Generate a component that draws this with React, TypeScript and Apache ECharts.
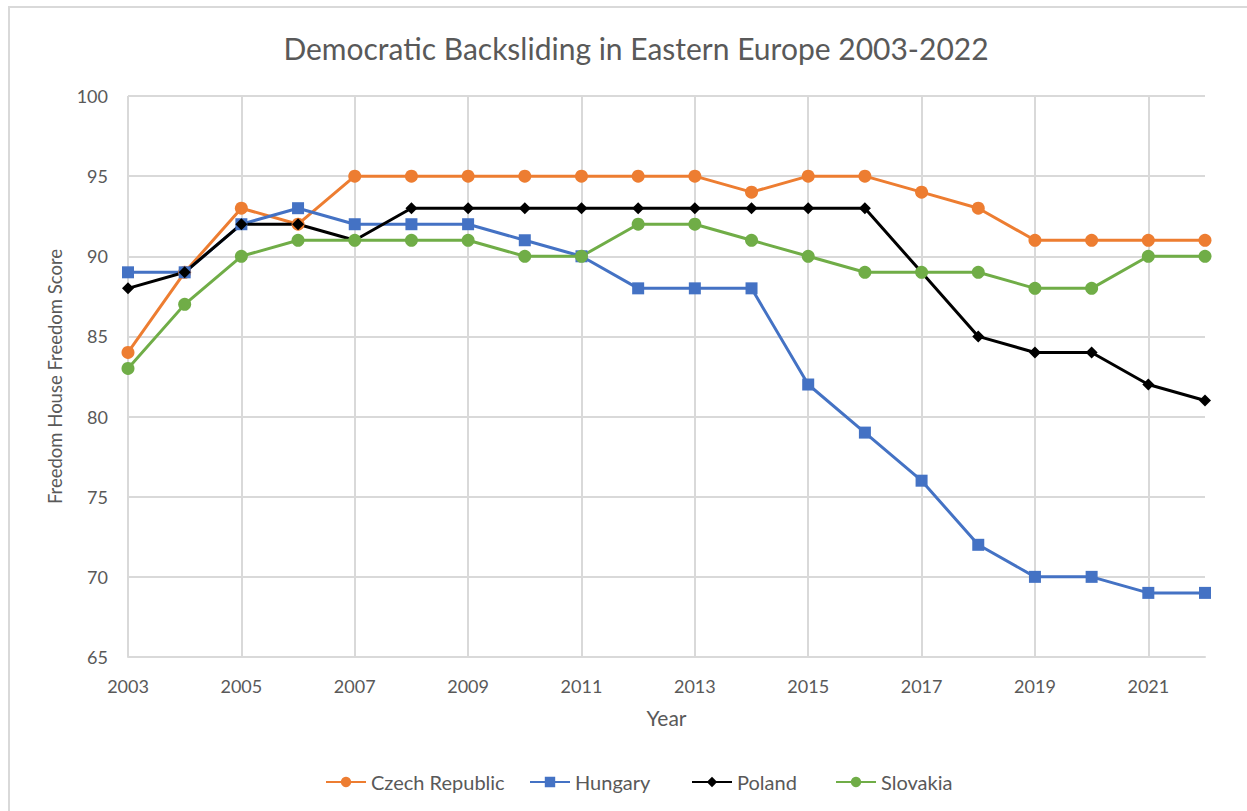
import React, { useEffect, useRef } from "react";
import * as echarts from "echarts";

const years = [
  "2003", "2004", "2005", "2006", "2007", "2008", "2009", "2010", "2011", "2012",
  "2013", "2014", "2015", "2016", "2017", "2018", "2019", "2020", "2021", "2022",
];

const countries = ["Czech Republic", "Hungary", "Poland", "Slovakia"];

const czechRepublic = [84, 89, 93, 92, 95, 95, 95, 95, 95, 95, 95, 94, 95, 95, 94, 93, 91, 91, 91, 91];
const hungary = [89, 89, 92, 93, 92, 92, 92, 91, 90, 88, 88, 88, 82, 79, 76, 72, 70, 70, 69, 69];
const poland = [88, 89, 92, 92, 91, 93, 93, 93, 93, 93, 93, 93, 93, 93, 89, 85, 84, 84, 82, 81];
const slovakia = [83, 87, 90, 91, 91, 91, 91, 90, 90, 92, 92, 91, 90, 89, 89, 89, 88, 88, 90, 90];

const FONT = "Lato, 'Open Sans', sans-serif";
const TEXT = "#595959";
const GRID = "#d9d9d9";

// left edge of each legend entry along the bottom row
const legendLefts = [320, 524, 686, 830];

export default function App() {
  const ref = useRef<HTMLDivElement>(null);

  useEffect(() => {
    if (!ref.current) return;
    const chart = echarts.init(ref.current, undefined, { renderer: "svg" });

    const line = (name: string, data: number[], color: string, symbol: string, size: number) => ({
      name,
      type: "line",
      data,
      symbol,
      symbolSize: size,
      showAllSymbol: true,
      lineStyle: { color, width: 3 },
      itemStyle: { color, borderWidth: 0 },
      emphasis: { disabled: true },
    });

    chart.setOption({
      animation: false,
      backgroundColor: "#ffffff",
      textStyle: { fontFamily: FONT },
      graphic: [
        {
          type: "rect",
          shape: { x: 9, y: 7, width: 1400, height: 1000 },
          style: { fill: "none", stroke: GRID, lineWidth: 2 },
          silent: true,
          z: -10,
        },
      ],
      title: {
        text: "Democratic Backsliding in Eastern Europe 2003-2022",
        left: 631,
        top: 28,
        textAlign: "center",
        textStyle: { color: TEXT, fontSize: 30, fontWeight: "normal", fontFamily: FONT },
      },
      legend: countries.map((name, i) => ({
        top: 767,
        left: legendLefts[i],
        itemWidth: 40,
        itemHeight: 13,
        textStyle: { color: TEXT, fontSize: 20, fontFamily: FONT },
        data: [name],
      })),
      grid: { left: 128, right: 42, top: 96, bottom: 154 },
      xAxis: {
        type: "category",
        data: years,
        boundaryGap: false,
        name: "Year",
        nameLocation: "middle",
        nameGap: 50,
        nameTextStyle: { color: TEXT, fontSize: 21, fontFamily: FONT },
        axisLine: { show: true, lineStyle: { color: GRID, width: 2 } },
        axisTick: { show: false },
        axisLabel: { interval: 1, color: TEXT, fontSize: 18, margin: 20, fontFamily: FONT },
        splitLine: { show: true, interval: 1, lineStyle: { color: GRID, width: 2 } },
      },
      yAxis: {
        type: "value",
        min: 65,
        max: 100,
        interval: 5,
        name: "Freedom House Freedom Score",
        nameLocation: "middle",
        nameGap: 64,
        nameTextStyle: { color: TEXT, fontSize: 18.5, fontFamily: FONT },
        axisLine: { show: false },
        axisTick: { show: false },
        axisLabel: { color: TEXT, fontSize: 18, margin: 20, fontFamily: FONT },
        splitLine: { show: true, lineStyle: { color: GRID, width: 2 } },
      },
      series: [
        line(countries[0], czechRepublic, "#ED7D31", "circle", 13),
        line(countries[1], hungary, "#4472C4", "rect", 12),
        line(countries[2], poland, "#000000", "diamond", 12),
        line(countries[3], slovakia, "#70AD47", "circle", 13),
      ],
    });

    return () => chart.dispose();
  }, []);

  return (
    <div
      ref={ref}
      style={{ position: "fixed", left: 0, top: 0, width: 1247, height: 811 }}
    />
  );
}
